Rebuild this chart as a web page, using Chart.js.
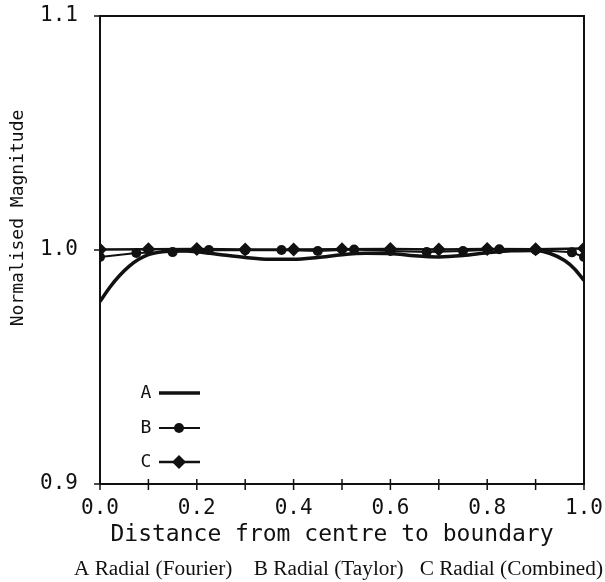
<!DOCTYPE html>
<html>
<head>
<meta charset="utf-8">
<script src="https://cdn.jsdelivr.net/npm/chart.js@4.4.1/dist/chart.umd.min.js"></script>
<style>
  html, body { margin: 0; padding: 0; background: #fff; }
  #wrap { width: 605px; height: 582px; }
</style>
</head>
<body>
<div id="wrap"><canvas id="magChart" width="605" height="582"></canvas></div>
<script>
// values
const xTickValues = [0, 0.1, 0.2, 0.3, 0.4, 0.5, 0.6, 0.7, 0.8, 0.9, 1.0];
const yTickValues = [0.9, 1.0, 1.1];

const fourierX = [0, 0.02, 0.04, 0.06, 0.08, 0.1, 0.13, 0.16, 0.2, 0.25, 0.3, 0.35, 0.4, 0.45, 0.5, 0.55, 0.6, 0.65, 0.7, 0.75, 0.8, 0.85, 0.9, 0.93, 0.96, 0.98, 1.0];
const fourierY = [0.978, 0.984, 0.989, 0.993, 0.996, 0.998, 0.9993, 0.9997, 0.9993, 0.998, 0.9968, 0.996, 0.996, 0.9968, 0.998, 0.9986, 0.9985, 0.9975, 0.997, 0.9976, 0.9988, 0.9997, 0.9998, 0.9985, 0.9955, 0.992, 0.987];

const taylorX = [0, 0.075, 0.15, 0.225, 0.3, 0.375, 0.45, 0.525, 0.6, 0.675, 0.75, 0.825, 0.9, 0.975, 1.0];
const taylorY = [0.997, 0.9987, 0.9991, 1.0, 0.9999, 1.0, 0.9996, 1.0002, 0.9996, 0.9991, 0.9996, 1.0003, 1.0, 0.999, 0.997];

const combinedX = [0, 0.1, 0.2, 0.3, 0.4, 0.5, 0.6, 0.7, 0.8, 0.9, 1.0];
const combinedY = [1.0002, 1.0003, 1.0004, 1.0002, 1.0002, 1.0003, 1.0004, 1.0002, 1.0004, 1.0003, 1.0006];

const legendItems = ['A', 'B', 'C'];
const caption = 'A Radial (Fourier)    B Radial (Taylor)   C Radial (Combined)';

const toPoints = (xs, ys) => xs.map((x, i) => ({ x: x, y: ys[i] }));

const ink = '#111';
const mono = '"DejaVu Sans Mono", monospace';

// frame, crossing tick marks, legend and texts
const decorations = {
  id: 'decorations',
  afterDraw(chart) {
    const ctx = chart.ctx;
    const area = chart.chartArea;
    const xs = chart.scales.x;
    const ys = chart.scales.y;
    ctx.save();
    ctx.strokeStyle = ink;
    ctx.lineWidth = 2;
    ctx.strokeRect(area.left, area.top, area.right - area.left, area.bottom - area.top);

    ctx.lineWidth = 1.5;
    xTickValues.forEach((v) => {
      const px = xs.getPixelForValue(v);
      ctx.beginPath();
      ctx.moveTo(px, area.bottom - 5);
      ctx.lineTo(px, area.bottom + 6);
      ctx.stroke();
    });
    yTickValues.forEach((v) => {
      const py = ys.getPixelForValue(v);
      ctx.beginPath();
      ctx.moveTo(area.left - 6, py);
      ctx.lineTo(area.left, py);
      ctx.stroke();
    });

    // legend inside plot
    const rows = [393, 428, 462];
    chart.data.datasets.forEach((ds, i) => {
      const y = rows[i];
      ctx.fillStyle = ink;
      ctx.font = '18px ' + mono;
      ctx.textAlign = 'center';
      ctx.textBaseline = 'middle';
      ctx.fillText(legendItems[i], 146, y);
      ctx.lineWidth = ds.borderWidth;
      ctx.beginPath();
      ctx.moveTo(159, y);
      ctx.lineTo(200, y);
      ctx.stroke();
      if (ds.pointStyle === 'circle') {
        ctx.beginPath();
        ctx.arc(179, y, ds.pointRadius, 0, Math.PI * 2);
        ctx.fill();
      } else if (ds.pointStyle === 'rectRot') {
        const r = ds.pointRadius;
        ctx.beginPath();
        ctx.moveTo(179, y - r);
        ctx.lineTo(179 + r, y);
        ctx.lineTo(179, y + r);
        ctx.lineTo(179 - r, y);
        ctx.closePath();
        ctx.fill();
      }
    });

    // axis titles
    ctx.fillStyle = ink;
    ctx.textAlign = 'center';
    ctx.textBaseline = 'middle';
    ctx.font = '23px ' + mono;
    ctx.fillText('Distance from centre to boundary', 332, 535);

    ctx.save();
    ctx.translate(18, 218);
    ctx.rotate(-Math.PI / 2);
    ctx.font = '18px ' + mono;
    ctx.fillText('Normalised Magnitude', 0, 0);
    ctx.restore();

    ctx.font = '21.3px "Liberation Serif", serif';
    ctx.textAlign = 'right';
    ctx.fillText(caption, 603, 569);
    ctx.restore();
  }
};

new Chart(document.getElementById('magChart'), {
  type: 'line',
  data: {
    datasets: [
      {
        label: 'A',
        data: toPoints(fourierX, fourierY),
        borderColor: ink,
        borderWidth: 3.5,
        pointRadius: 0,
        pointStyle: false,
        tension: 0.4,
        cubicInterpolationMode: 'monotone'
      },
      {
        label: 'B',
        data: toPoints(taylorX, taylorY),
        borderColor: ink,
        backgroundColor: ink,
        borderWidth: 2,
        pointStyle: 'circle',
        pointRadius: 5,
        pointBorderWidth: 0,
        tension: 0
      },
      {
        label: 'C',
        data: toPoints(combinedX, combinedY),
        borderColor: ink,
        backgroundColor: ink,
        borderWidth: 2.5,
        pointStyle: 'rectRot',
        pointRadius: 7,
        pointBorderWidth: 0,
        tension: 0
      }
    ]
  },
  options: {
    responsive: false,
    animation: false,
    layout: { padding: { top: 16, right: 21, left: 0, bottom: 0 } },
    plugins: {
      legend: { display: false },
      tooltip: { enabled: false }
    },
    scales: {
      x: {
        type: 'linear',
        min: 0,
        max: 1,
        grid: { display: false },
        border: { display: false },
        afterFit: (scale) => {
          scale.height = 98;
          scale.paddingLeft = 0;
          scale.paddingRight = 0;
        },
        ticks: {
          stepSize: 0.1,
          autoSkip: false,
          maxRotation: 0,
          padding: 4,
          color: ink,
          font: { family: mono, size: 21 },
          callback: (v) => (Math.round(v * 10) % 2 === 0 ? v.toFixed(1) : '')
        }
      },
      y: {
        min: 0.9,
        max: 1.1,
        grid: { display: false },
        border: { display: false },
        afterFit: (scale) => {
          scale.width = 100;
          scale.paddingTop = 0;
          scale.paddingBottom = 0;
        },
        ticks: {
          stepSize: 0.1,
          padding: 14,
          color: ink,
          font: { family: mono, size: 21 },
          callback: (v) => v.toFixed(1)
        }
      }
    }
  },
  plugins: [decorations]
});
</script>
</body>
</html>
